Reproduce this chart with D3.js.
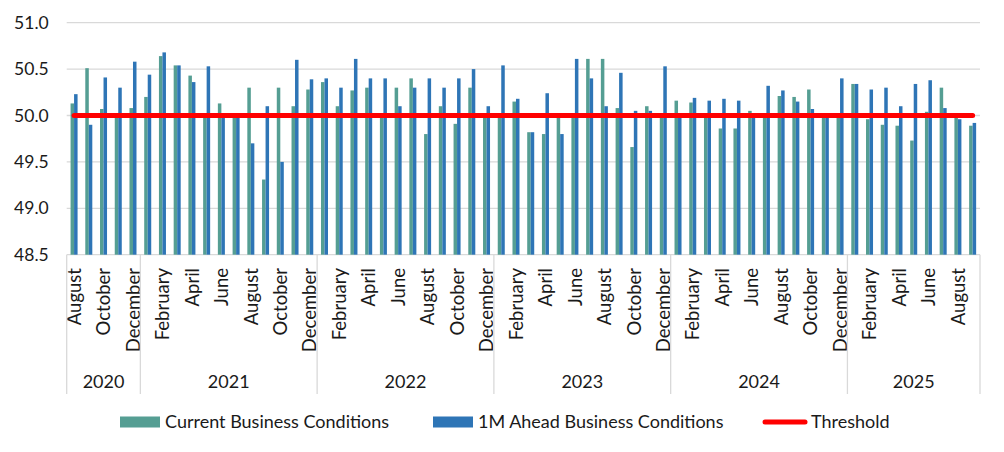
<!DOCTYPE html>
<html lang="en">
<head>
<meta charset="UTF-8">
<title>Business Conditions</title>
<script src="https://d3js.org/d3.v7.min.js"></script>
<style>
  body { margin: 0; background: #fff; }
  svg text { font-family: Lato, "Noto Sans", sans-serif; fill: #1a1a1a; }
</style>
</head>
<body>
<div id="chart"></div>
<script>
// monthly readings, Aug 2020 .. Sep 2025
const monthNames = ["January","February","March","April","May","June","July","August","September","October","November","December"]
const years = ["2020","2021","2022","2023","2024","2025"]
const monthsPerYear = [5, 12, 12, 12, 12, 9]

const current = [50.13, 50.51, 50.07, 50.0, 50.08,
  50.20, 50.64, 50.54, 50.43, 50.0, 50.13, 49.98, 50.30, 49.31, 50.30, 50.10, 50.28,
  50.36, 50.10, 50.27, 50.30, 49.98, 50.30, 50.40, 49.80, 50.10, 49.91, 50.30, 50.0,
  50.0, 50.15, 49.82, 49.80, 49.98, 50.0, 50.61, 50.61, 50.08, 49.66, 50.10, 50.0,
  50.16, 50.14, 49.98, 49.86, 49.86, 50.05, 49.98, 50.21, 50.20, 50.28, 49.98, 49.98,
  50.34, 49.96, 49.90, 49.89, 49.73, 50.04, 50.30, 49.98, 49.89]
const ahead = [50.23, 49.90, 50.41, 50.30, 50.58,
  50.44, 50.68, 50.54, 50.36, 50.53, 49.98, 49.98, 49.70, 50.10, 49.50, 50.60, 50.39,
  50.40, 50.30, 50.61, 50.40, 50.40, 50.10, 50.30, 50.40, 50.30, 50.40, 50.50, 50.10,
  50.54, 50.18, 49.82, 50.24, 49.80, 50.61, 50.40, 50.10, 50.46, 50.05, 50.05, 50.53,
  50.0, 50.19, 50.16, 50.18, 50.16, 49.98, 50.32, 50.27, 50.15, 50.07, 49.98, 50.40,
  50.34, 50.28, 50.30, 50.10, 50.34, 50.38, 50.08, 49.96, 49.92]
const threshold = 50
const yTicks = [48.5, 49.0, 49.5, 50.0, 50.5, 51.0]

const seriesNames = ["Current Business Conditions", "1M Ahead Business Conditions", "Threshold"]
const colors = ["#559e93", "#2e75b6", "#ff0000"]

// build category list
const cats = []
years.forEach((yr, yi) => {
  const start = yi === 0 ? 7 : 0
  for (let m = 0; m < monthsPerYear[yi]; m++) {
    cats.push({ year: yr, month: monthNames[start + m] })
  }
})
cats.forEach((c, i) => { c.i = i; c.current = current[i]; c.ahead = ahead[i] })

const W = 1004, H = 452
const plot = { left: 66.7, right: 980, top: 22.7, bottom: 254.7 }

const svg = d3.select("#chart").append("svg")
  .attr("width", W).attr("height", H)

const x = d3.scaleBand()
  .domain(cats.map(d => d.i))
  .range([plot.left, plot.right])
  .padding(0)

const x1 = d3.scaleBand()
  .domain(["current", "ahead"])
  .range([0, x.bandwidth()])
  .paddingInner(0)
  .paddingOuter(1.1)

const y = d3.scaleLinear()
  .domain([48.5, 51.0])
  .range([plot.bottom, plot.top])

// gridlines
svg.append("g")
  .selectAll("line")
  .data(yTicks)
  .enter().append("line")
    .attr("x1", plot.left).attr("x2", plot.right)
    .attr("y1", d => y(d)).attr("y2", d => y(d))
    .attr("stroke", "#d9d9d9")
    .attr("stroke-width", 1.3)

// y labels
const yAxis = svg.append("g")
  .attr("transform", "translate(" + (plot.left - 18) + ",0)")
  .call(d3.axisLeft(y).tickValues(yTicks).tickFormat(d3.format(".1f")).tickSize(0).tickPadding(0))
yAxis.select(".domain").remove()
yAxis.selectAll("text")
  .style("font-size", "17.5px")
  .attr("fill", "#1a1a1a")

// bars
const groups = svg.append("g")
  .selectAll("g")
  .data(cats)
  .enter().append("g")
    .attr("transform", d => "translate(" + x(d.i) + ",0)")

groups.selectAll("rect")
  .data(d => [{ key: "current", v: d.current }, { key: "ahead", v: d.ahead }])
  .enter().append("rect")
    .attr("x", d => x1(d.key))
    .attr("width", x1.bandwidth())
    .attr("y", d => y(d.v))
    .attr("height", d => y(48.5) - y(d.v))
    .attr("fill", d => d.key === "current" ? colors[0] : colors[1])

// threshold line
const line = d3.line()
  .x(d => x(d.i) + x.bandwidth() / 2)
  .y(() => y(threshold))
svg.append("path")
  .datum(cats)
  .attr("d", line)
  .attr("fill", "none")
  .attr("stroke", colors[2])
  .attr("stroke-width", 5)
  .attr("stroke-linecap", "round")

// month labels (every second month)
svg.append("g")
  .selectAll("text")
  .data(cats.filter(d => d.i % 2 === 0))
  .enter().append("text")
    .attr("transform", d => "translate(" + (x(d.i) + x.bandwidth() / 2) + ",268) rotate(-90)")
    .attr("dy", "0.36em")
    .attr("text-anchor", "end")
    .style("font-size", "18.5px")
    .text(d => d.month)

// year groups
let acc = 0
const yearSpans = years.map((yr, yi) => {
  const s = { year: yr, start: acc, end: acc + monthsPerYear[yi] - 1 }
  acc += monthsPerYear[yi]
  return s
})
const bounds = [plot.left].concat(yearSpans.map(s => x(s.end) + x.bandwidth()))

svg.append("g")
  .selectAll("line")
  .data(bounds)
  .enter().append("line")
    .attr("x1", d => d).attr("x2", d => d)
    .attr("y1", plot.bottom).attr("y2", 394)
    .attr("stroke", "#d9d9d9")
    .attr("stroke-width", 1.3)

svg.append("g")
  .selectAll("text")
  .data(yearSpans)
  .enter().append("text")
    .attr("x", d => (x(d.start) + x(d.end) + x.bandwidth()) / 2)
    .attr("y", 382)
    .attr("dy", "0.35em")
    .attr("text-anchor", "middle")
    .style("font-size", "18px")
    .text(d => d.year)

// legend
const legendX = [120, 433, 763]
const legend = svg.append("g")
  .selectAll("g")
  .data(seriesNames)
  .enter().append("g")
    .attr("transform", (d, i) => "translate(" + legendX[i] + ",422)")

legend.each(function (d, i) {
  const g = d3.select(this)
  if (i < 2) {
    g.append("rect").attr("x", 0).attr("y", -5.5).attr("width", 40).attr("height", 11).attr("fill", colors[i])
  } else {
    g.append("line").attr("x1", 2).attr("x2", 42).attr("y1", 0).attr("y2", 0)
      .attr("stroke", colors[2]).attr("stroke-width", 5).attr("stroke-linecap", "round")
  }
  g.append("text")
    .attr("x", i < 2 ? 45 : 48)
    .attr("dy", "0.35em")
    .style("font-size", "18px")
    .text(d)
})
</script>
</body>
</html>
